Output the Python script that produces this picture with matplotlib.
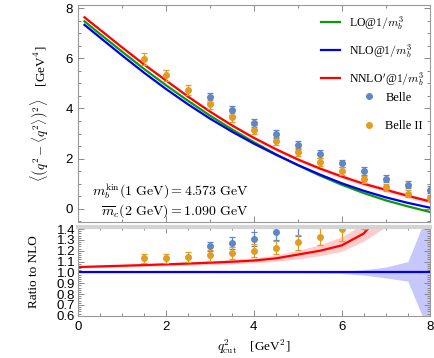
import matplotlib
matplotlib.use("Agg")
import matplotlib.pyplot as plt
from matplotlib.ticker import MultipleLocator

plt.rcParams['font.family'] = ['Liberation Sans', 'DejaVu Sans']
plt.rcParams['mathtext.fontset'] = 'cm'

# theory curves (top panel)
q2 = [0.15, 0.5, 1.0, 1.5, 2.0, 2.5, 3.0, 3.5, 4.0, 4.5, 5.0, 5.5, 6.0, 6.5, 7.0, 7.5, 8.0]
lo = [7.47, 6.97, 6.27, 5.58, 4.93, 4.31, 3.72, 3.17, 2.66, 2.18, 1.74, 1.33, 0.96, 0.63, 0.34, 0.10, -0.12]
nlo = [7.33, 6.83, 6.12, 5.43, 4.78, 4.17, 3.60, 3.08, 2.60, 2.16, 1.75, 1.37, 1.02, 0.72, 0.46, 0.24, 0.05]
nnlo = [7.63, 7.14, 6.44, 5.76, 5.12, 4.48, 3.88, 3.33, 2.83, 2.38, 1.97, 1.61, 1.29, 1.00, 0.76, 0.52, 0.30]
nnlo_err = [0.06, 0.06, 0.06, 0.06, 0.06, 0.06, 0.06, 0.07, 0.07, 0.07, 0.07, 0.08, 0.08, 0.08, 0.09, 0.09, 0.09]

# measurements
q2_b2 = [1.5, 2.0, 2.5, 3.0, 3.5, 4.0, 4.5, 5.0, 5.5, 6.0, 6.5, 7.0, 7.5, 8.0]
b2 = [5.98, 5.32, 4.72, 4.16, 3.65, 3.16, 2.69, 2.27, 1.87, 1.51, 1.19, 0.87, 0.61, 0.43]
b2_err = [0.24, 0.22, 0.20, 0.18, 0.17, 0.17, 0.16, 0.16, 0.15, 0.15, 0.14, 0.14, 0.13, 0.13]
q2_b1 = [3.0, 3.5, 4.0, 4.5, 5.0, 5.5, 6.0, 6.5, 7.0, 7.5, 8.0]
b1 = [4.45, 3.92, 3.43, 2.99, 2.56, 2.17, 1.81, 1.51, 1.21, 0.96, 0.77]
b1_err = [0.18, 0.18, 0.17, 0.17, 0.16, 0.16, 0.15, 0.15, 0.15, 0.14, 0.14]

# ratio panel
q2_r = [0.0, 0.5, 1.0, 1.5, 2.0, 2.5, 3.0, 3.5, 4.0, 4.5, 5.0, 5.5, 6.0, 6.5, 7.0, 7.5, 8.0]
r_nnlo = [1.050, 1.056, 1.062, 1.068, 1.075, 1.082, 1.090, 1.099, 1.110, 1.130, 1.165, 1.200, 1.250, 1.360, 1.600, 2.0, 3.0]
r_nnlo_lo = [1.040, 1.045, 1.050, 1.055, 1.061, 1.066, 1.073, 1.080, 1.088, 1.103, 1.125, 1.155, 1.195, 1.290, 1.420, 1.8, 2.6]
r_nnlo_hi = [1.060, 1.067, 1.074, 1.081, 1.089, 1.098, 1.108, 1.120, 1.135, 1.160, 1.205, 1.255, 1.330, 1.450, 1.800, 2.3, 3.4]
r_nlo_lo = [0.998, 0.998, 0.998, 0.998, 0.998, 0.998, 0.998, 0.997, 0.997, 0.996, 0.996, 0.994, 0.990, 0.975, 0.950, 0.920, 0.43]
r_nlo_hi = [1.002, 1.002, 1.002, 1.002, 1.002, 1.002, 1.002, 1.003, 1.003, 1.004, 1.004, 1.006, 1.010, 1.025, 1.050, 1.100, 1.60]

q2_rb2 = [1.5, 2.0, 2.5, 3.0, 3.5, 4.0, 4.5, 5.0, 5.5, 6.0, 6.5]
rb2 = [1.13, 1.13, 1.14, 1.16, 1.18, 1.20, 1.23, 1.28, 1.33, 1.405, 1.60]
rb2_err = [0.045, 0.045, 0.045, 0.05, 0.055, 0.06, 0.06, 0.07, 0.08, 0.11, 0.20]
q2_rb1 = [3.0, 3.5, 4.0, 4.5, 5.0]
rb1 = [1.24, 1.27, 1.31, 1.37, 1.45]
rb1_err = [0.045, 0.055, 0.065, 0.07, 0.11]

c_lo = '#0a9a0a'
c_nlo = '#0000ee'
c_nnlo = '#ff0000'
c_b1 = '#5f87c3'
c_b2 = '#e19c24'
serif = ['Liberation Serif', 'DejaVu Serif']

fig = plt.figure(figsize=(4.35, 3.58), dpi=100)
ax = fig.add_axes([0.179, 0.380, 0.809, 0.606])
axr = fig.add_axes([0.179, 0.117, 0.809, 0.249])

# top panel
ax.fill_between(q2, [v - e for v, e in zip(nnlo, nnlo_err)], [v + e for v, e in zip(nnlo, nnlo_err)],
                color=c_nnlo, alpha=0.15, lw=0)
l_lo, = ax.plot(q2, lo, color=c_lo, lw=1.6, label=r'LO@$1/m_b^3$')
l_nlo, = ax.plot(q2, nlo, color=c_nlo, lw=1.6, label=r'NLO@$1/m_b^3$')
l_nnlo, = ax.plot(q2, nnlo, color=c_nnlo, lw=1.6, label=r"NNLO$'$@$1/m_b^3$")
e1 = ax.errorbar(q2_b1, b1, yerr=b1_err, fmt='o', ms=4, color=c_b1, ecolor=c_b1, elinewidth=0.9,
                 capsize=2.5, capthick=0.9)
e2 = ax.errorbar(q2_b2, b2, yerr=b2_err, fmt='o', ms=4, color=c_b2, ecolor=c_b2, elinewidth=0.9,
                 capsize=2.5, capthick=0.9)

leg1 = ax.legend([l_lo, l_nlo, l_nnlo], [l_lo.get_label(), l_nlo.get_label(), l_nnlo.get_label()],
                 loc='upper left', bbox_to_anchor=(0.69, 0.96), frameon=False,
                 prop={'family': serif, 'size': 8.5}, handlelength=1.6, handletextpad=0.8,
                 labelspacing=0.85, borderpad=0, borderaxespad=0)
ax.add_artist(leg1)
ax.legend([e1[0], e2[0]], ['Belle', 'Belle II'], loc='upper left', bbox_to_anchor=(0.81, 0.6),
          frameon=False, prop={'family': serif, 'size': 9}, handlelength=1.0, handletextpad=0.8,
          labelspacing=1.3, borderpad=0, borderaxespad=0)

ax.text(0.486, 0.72, r'$m_b^{\rm kin}(1\ \mathrm{GeV}) = 4.573\ \mathrm{GeV}$', transform=ax.get_yaxis_transform(),
        ha='right', va='center', fontsize=10)
ax.text(0.486, -0.09, r'$\overline{m}_c(2\ \mathrm{GeV}) = 1.090\ \mathrm{GeV}$', transform=ax.get_yaxis_transform(),
        ha='right', va='center', fontsize=10)

ax.set_xlim(0, 8)
ax.set_ylim(-0.52, 8.12)
ax.set_xticklabels([])
ax.xaxis.set_major_locator(MultipleLocator(2))
ax.xaxis.set_minor_locator(MultipleLocator(1))
ax.yaxis.set_major_locator(MultipleLocator(2))
ax.yaxis.set_minor_locator(MultipleLocator(0.5))
ax.set_ylabel(r'$\left\langle \left(q^2 - \langle q^2\rangle\right)^2 \right\rangle$    [GeV$^4$]',
              family=serif, fontsize=9.5)
ax.yaxis.set_label_coords(-0.08, 0.5)

# ratio panel
axr.fill_between(q2_r, r_nlo_lo, r_nlo_hi, color=c_nlo, alpha=0.22, lw=0)
axr.fill_between(q2_r, r_nnlo_lo, r_nnlo_hi, color=c_nnlo, alpha=0.2, lw=0)
axr.axhline(1.0, color=c_nlo, lw=1.6)
axr.plot(q2_r, r_nnlo, color=c_nnlo, lw=1.6)
axr.errorbar(q2_rb1, rb1, yerr=rb1_err, fmt='o', ms=4, color=c_b1, ecolor=c_b1, elinewidth=0.9,
             capsize=2.5, capthick=0.9)
axr.errorbar(q2_rb2, rb2, yerr=rb2_err, fmt='o', ms=4, color=c_b2, ecolor=c_b2, elinewidth=0.9,
             capsize=2.5, capthick=0.9)

axr.set_xlim(0, 8)
axr.set_ylim(0.597, 1.42)
axr.xaxis.set_major_locator(MultipleLocator(2))
axr.xaxis.set_minor_locator(MultipleLocator(0.5))
axr.yaxis.set_minor_locator(MultipleLocator(0.02))
axr.set_yticks([0.6, 0.7, 0.8, 0.9, 1.0, 1.1, 1.2, 1.3, 1.4])
axr.set_ylabel('Ratio to NLO', family=serif, fontsize=9.5)
axr.yaxis.set_label_coords(-0.108, 0.5)
axr.set_xlabel(r'$q^2_{\rm cut}$    [GeV$^2$]', family=serif, fontsize=9.5, labelpad=3)
axr.spines['top'].set_color('#d4d4d4')
axr.spines['top'].set_linewidth(3)

for a in (ax, axr):
    a.tick_params(which='both', direction='in', top=True, right=True, colors='#888888',
                  labelcolor='black', labelsize=9.5, width=0.7)
    a.tick_params(which='major', length=4)
    a.tick_params(which='minor', length=2)
    for s in ('left', 'right', 'bottom'):
        a.spines[s].set_color('#999999')
        a.spines[s].set_linewidth(0.8)
ax.spines['top'].set_color('#999999')
ax.spines['top'].set_linewidth(0.8)
axr.tick_params(axis='y', labelsize=9.5, pad=2)

fig.savefig('out.png', dpi=100)
